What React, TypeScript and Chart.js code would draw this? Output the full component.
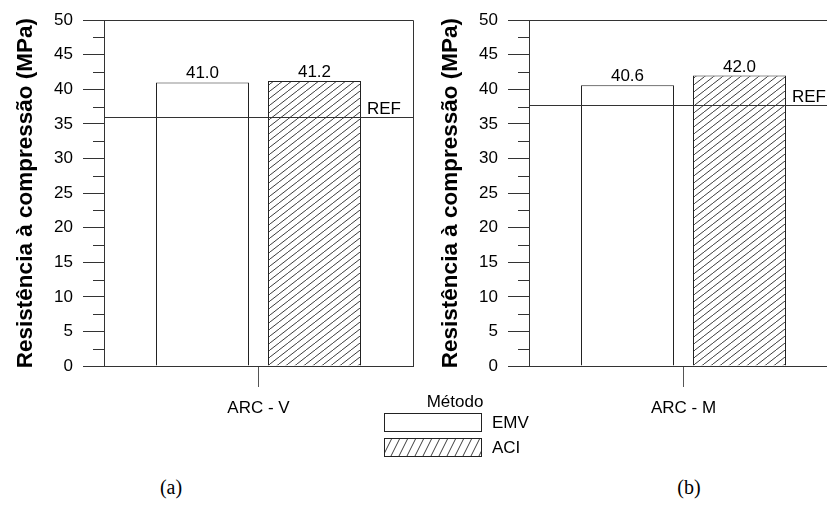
import React, { useEffect, useRef } from 'react';
import { Chart, registerables } from 'chart.js';

Chart.register(...registerables);

// Compressive strength per panel and method
const panelLabels = ['ARC - V', 'ARC - M'];
const methodLabels = ['EMV', 'ACI'];
const emvValues = [41.0, 40.6];
const aciValues = [41.2, 42.0];
const refValues = [36.0, 37.8];
const refLabel = 'REF';
const yMin = 0;
const yMax = 50;
const yStep = 5;
const yMinorStep = 2.5;
const yTitle = 'Resistência à compressão (MPa)';
const legendTitle = 'Método';
const captions = ['(a)', '(b)'];

const INK = '#000000';
const AXIS = '#333333';
const SANS = "'Liberation Sans', Arial, Helvetica, sans-serif";
const SERIF = "'Liberation Serif', 'Times New Roman', serif";

const CANVAS_H = 420;

function makeHatchTile(w: number, h: number, color: string): HTMLCanvasElement {
  const c = document.createElement('canvas');
  c.width = w;
  c.height = h;
  const g = c.getContext('2d')!;
  g.fillStyle = '#ffffff';
  g.fillRect(0, 0, w, h);
  g.strokeStyle = color;
  g.lineWidth = 1;
  g.beginPath();
  for (let k = -1; k <= 1; k++) {
    g.moveTo(k * w, h);
    g.lineTo(k * w + w, 0);
  }
  g.stroke();
  return c;
}

const crisp = (v: number) => Math.round(v) + 0.5;

function Panel({ index, left, width, rightPad }: { index: number; left: number; width: number; rightPad: number }) {
  const ref = useRef<HTMLCanvasElement>(null);

  useEffect(() => {
    const canvas = ref.current!;
    const ctx0 = canvas.getContext('2d')!;
    const hatch = ctx0.createPattern(makeHatchTile(9, 7, '#3c3c3c'), 'repeat')!;
    const refValue = refValues[index];

    const extras = {
      id: 'panelExtras',
      afterDatasetsDraw(chart: any) {
        const { ctx, chartArea, scales } = chart;
        const { left: l, right: r, top: t, bottom: b } = chartArea;
        const y = scales.y;
        ctx.save();
        ctx.strokeStyle = AXIS;
        ctx.lineWidth = 1;

        // top and right frame
        ctx.beginPath();
        ctx.moveTo(l, crisp(t));
        ctx.lineTo(crisp(r), crisp(t));
        ctx.lineTo(crisp(r), b);
        ctx.stroke();

        // minor ticks on the value axis
        ctx.beginPath();
        for (let v = yMin + yMinorStep; v < yMax; v += yStep) {
          const py = crisp(y.getPixelForValue(v));
          ctx.moveTo(l - 11, py);
          ctx.lineTo(l, py);
        }
        ctx.stroke();

        // reference line
        const ry = crisp(y.getPixelForValue(refValue));
        ctx.beginPath();
        ctx.moveTo(l, ry);
        ctx.lineTo(r, ry);
        ctx.stroke();

        ctx.fillStyle = INK;
        ctx.font = `17px ${SANS}`;
        ctx.textAlign = 'left';
        ctx.textBaseline = 'alphabetic';
        ctx.fillText(refLabel, r - 46, ry - 4);

        // value labels above bars
        ctx.textAlign = 'center';
        chart.data.datasets.forEach((ds: any, di: number) => {
          const meta = chart.getDatasetMeta(di);
          meta.data.forEach((el: any, i: number) => {
            const val = ds.data[i] as number;
            ctx.fillText(val.toFixed(1), el.x, el.y - 4);
          });
        });
        ctx.restore();
      },
    };

    const chart = new Chart(canvas, {
      type: 'bar',
      data: {
        labels: [panelLabels[index]],
        datasets: [
          {
            label: methodLabels[0],
            data: [emvValues[index]],
            backgroundColor: '#ffffff',
            borderColor: '#222222',
            borderWidth: 1,
          },
          {
            label: methodLabels[1],
            data: [aciValues[index]],
            backgroundColor: hatch,
            borderColor: '#222222',
            borderWidth: 1,
          },
        ],
      },
      options: {
        responsive: false,
        animation: false,
        devicePixelRatio: 1,
        layout: { padding: { top: 18, right: rightPad, bottom: 0, left: 0 } },
        datasets: { bar: { categoryPercentage: 224 / 309, barPercentage: 93 / 112 } },
        plugins: { legend: { display: false }, tooltip: { enabled: false } },
        scales: {
          x: {
            type: 'category',
            offset: true,
            grid: { offset: false, drawOnChartArea: false, drawTicks: true, tickLength: 21, color: '#555555', lineWidth: 1 },
            border: { display: true, color: AXIS, width: 1 },
            ticks: { padding: 11, color: INK, font: { family: SANS, size: 17 } },
            afterFit: (s: any) => {
              s.height = 54;
            },
          },
          y: {
            min: yMin,
            max: yMax,
            ticks: { stepSize: yStep, padding: 10, color: INK, font: { family: SANS, size: 17 } },
            grid: { drawOnChartArea: false, tickLength: 21, color: AXIS, lineWidth: 1 },
            border: { display: true, color: AXIS, width: 1 },
            title: {
              display: true,
              text: yTitle,
              color: INK,
              font: { family: SANS, size: 22.5, weight: 'bold' },
              padding: { top: 12, bottom: 0 },
            },
            afterFit: (s: any) => {
              s.width = 104;
            },
          },
        },
      },
      plugins: [extras],
    } as any);

    return () => chart.destroy();
  }, [index]);

  return (
    <canvas
      ref={ref}
      width={width}
      height={CANVAS_H}
      style={{ position: 'absolute', left, top: 0, width, height: CANVAS_H }}
    />
  );
}

function HatchSwatch({ left, top, width, height }: { left: number; top: number; width: number; height: number }) {
  const ref = useRef<HTMLCanvasElement>(null);
  useEffect(() => {
    const c = ref.current!;
    const g = c.getContext('2d')!;
    g.clearRect(0, 0, width, height);
    g.fillStyle = g.createPattern(makeHatchTile(8, 16, '#3c3c3c'), 'repeat')!;
    g.fillRect(0, 0, width, height);
    g.strokeStyle = '#222222';
    g.lineWidth = 1;
    g.strokeRect(0.5, 0.5, width - 1, height - 1);
  }, [width, height]);
  return <canvas ref={ref} width={width} height={height} style={{ position: 'absolute', left, top }} />;
}

export default function App() {
  const textBase: React.CSSProperties = {
    position: 'absolute',
    fontFamily: SANS,
    color: INK,
    whiteSpace: 'nowrap',
    lineHeight: '18px',
  };
  return (
    <div
      style={{
        position: 'fixed',
        left: 0,
        top: 0,
        width: 827,
        height: 511,
        overflow: 'hidden',
        background: '#ffffff',
      }}
    >
      <Panel index={0} left={0} width={420} rightPad={7} />
      <Panel index={1} left={425} width={440} rightPad={27} />

      {/* shared legend */}
      <div style={{ ...textBase, left: 405, width: 100, top: 393, fontSize: 17, textAlign: 'center' }}>{legendTitle}</div>
      <div
        style={{
          position: 'absolute',
          left: 384,
          top: 413,
          width: 98,
          height: 19,
          boxSizing: 'border-box',
          border: '1px solid #222222',
          background: '#ffffff',
        }}
      />
      <HatchSwatch left={384} top={438} width={98} height={19} />
      <div style={{ ...textBase, left: 492, top: 414, fontSize: 17 }}>{methodLabels[0]}</div>
      <div style={{ ...textBase, left: 492, top: 439, fontSize: 17 }}>{methodLabels[1]}</div>

      {/* panel captions */}
      <div style={{ ...textBase, fontFamily: SERIF, fontSize: 20, lineHeight: '22px', left: 131, width: 80, top: 476, textAlign: 'center' }}>
        {captions[0]}
      </div>
      <div style={{ ...textBase, fontFamily: SERIF, fontSize: 20, lineHeight: '22px', left: 649, width: 80, top: 476, textAlign: 'center' }}>
        {captions[1]}
      </div>
    </div>
  );
}
